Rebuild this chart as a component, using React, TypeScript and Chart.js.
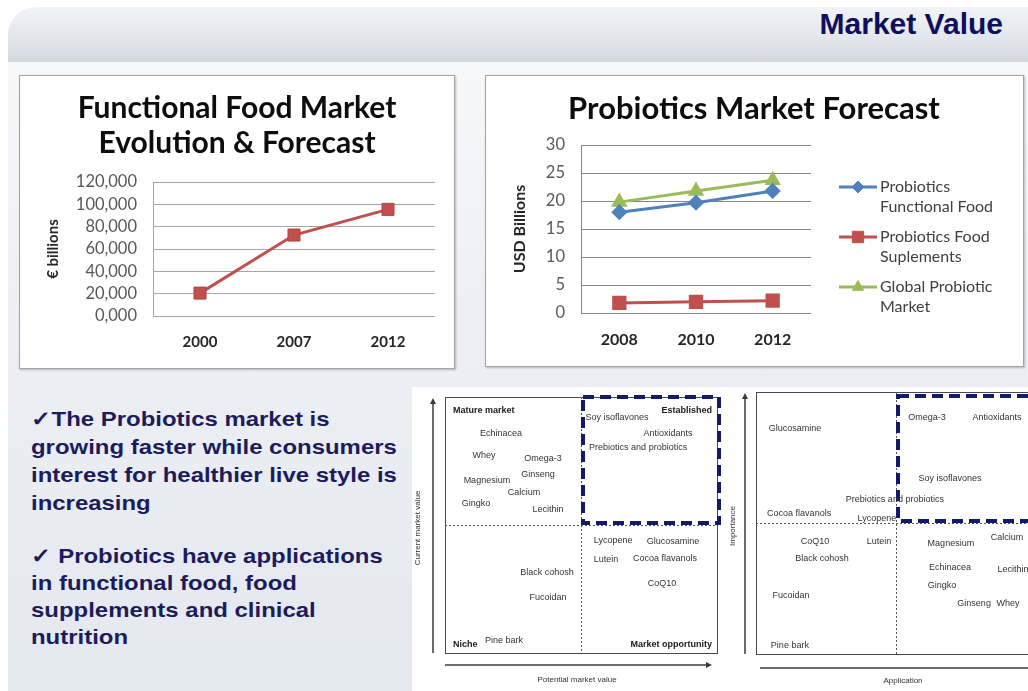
import React, { useEffect, useRef } from 'react';
import { Chart, registerables } from 'chart.js';
import { drawPoint } from 'chart.js/helpers';
Chart.register(...registerables);

// ---------- Data ----------
const ffYears = ['2000', '2007', '2012'];
const ffValues = [20500, 72500, 95500];
const ffTickLabels = ['0,000', '20,000', '40,000', '60,000', '80,000', '100,000', '120,000'];

const pbYears = ['2008', '2010', '2012'];
const pbFunctionalFood = [18.0, 19.7, 21.8];
const pbSupplements = [1.8, 2.0, 2.2];
const pbGlobal = [19.8, 21.8, 23.7];
const pbSeriesNames = [
  ['Probiotics', 'Functional Food'],
  ['Probiotics Food', 'Suplements'],
  ['Global Probiotic', 'Market'],
];

const q1Names = ['Echinacea', 'Whey', 'Omega-3', 'Ginseng', 'Magnesium', 'Calcium', 'Gingko', 'Lecithin', 'Soy isoflavones', 'Antioxidants', 'Prebiotics and probiotics', 'Lycopene', 'Glucosamine', 'Lutein', 'Cocoa flavanols', 'CoQ10', 'Black cohosh', 'Fucoidan', 'Pine bark'];
const q1X = [20.6, 14.3, 36.0, 34.2, 15.4, 29.0, 11.4, 37.9, 63.2, 82.0, 71.0, 61.8, 83.8, 59.2, 80.9, 79.8, 37.5, 37.9, 21.7];
const q1Y = [85.9, 77.3, 75.8, 69.9, 67.2, 62.5, 58.2, 55.9, 91.8, 85.9, 80.1, 43.8, 43.4, 36.7, 37.1, 27.0, 31.6, 21.5, 4.7];
const q1Corners = ['Mature market', 'Established', 'Niche', 'Market opportunity'];

const q2Names = ['Glucosamine', 'Omega-3', 'Antioxidants', 'Soy isoflavones', 'Prebiotics and probiotics', 'Cocoa flavanols', 'Lycopene', 'CoQ10', 'Lutein', 'Magnesium', 'Calcium', 'Black cohosh', 'Echinacea', 'Lecithin', 'Gingko', 'Ginseng', 'Whey', 'Fucoidan', 'Pine bark'];
const q2X = [13.9, 61.1, 86.1, 69.3, 49.6, 15.4, 43.2, 21.1, 43.9, 69.6, 89.6, 23.6, 69.3, 91.8, 66.4, 77.9, 90.0, 12.5, 12.1];
const q2Y = [85.9, 90.1, 90.1, 66.8, 58.8, 53.8, 51.9, 43.1, 43.1, 42.0, 44.3, 36.3, 33.2, 32.1, 26.0, 19.1, 19.1, 22.5, 3.1];

const bullet1 = ['\u2713The Probiotics market is', 'growing faster while consumers', 'interest for healthier live style is', 'increasing'];
const bullet2 = ['\u2713 Probiotics have applications', 'in functional food, food', 'supplements and clinical', 'nutrition'];

// ---------- Helpers ----------
const RED = '#c0504d';
const BLUE = '#4f81bd';
const GREEN = '#9bbb59';

const sideLegendPlugin = {
  id: 'sideLegend',
  afterDraw(chart: any) {
    const { ctx, chartArea } = chart;
    const x0 = chartArea.right + 28;
    ctx.save();
    chart.data.datasets.forEach((ds: any, i: number) => {
      const y = chartArea.top + 42 + i * 50;
      ctx.strokeStyle = ds.borderColor;
      ctx.lineWidth = 3;
      ctx.beginPath();
      ctx.moveTo(x0, y);
      ctx.lineTo(x0 + 38, y);
      ctx.stroke();
      ctx.fillStyle = ds.backgroundColor;
      ctx.strokeStyle = ds.borderColor;
      ctx.lineWidth = 1;
      drawPoint(ctx, { pointStyle: ds.pointStyle, radius: ds.pointRadius, rotation: 0, borderWidth: 1 }, x0 + 19, y);
      ctx.fillStyle = '#404040';
      ctx.font = '16px Lato';
      ctx.textAlign = 'left';
      ctx.textBaseline = 'middle';
      const lines = pbSeriesNames[i];
      lines.forEach((t, j) => ctx.fillText(t, x0 + 41, y + j * 20));
    });
    ctx.restore();
  },
};

function arrow(ctx: CanvasRenderingContext2D, x1: number, y1: number, x2: number, y2: number) {
  const ang = Math.atan2(y2 - y1, x2 - x1);
  const h = 6;
  ctx.beginPath();
  ctx.moveTo(x1, y1);
  ctx.lineTo(x2 - Math.cos(ang) * h, y2 - Math.sin(ang) * h);
  ctx.stroke();
  ctx.beginPath();
  ctx.moveTo(x2, y2);
  ctx.lineTo(x2 - Math.cos(ang) * h - Math.sin(ang) * 3, y2 - Math.sin(ang) * h + Math.cos(ang) * 3);
  ctx.lineTo(x2 - Math.cos(ang) * h + Math.sin(ang) * 3, y2 - Math.sin(ang) * h - Math.cos(ang) * 3);
  ctx.closePath();
  ctx.fill();
}

const quadPlugin = {
  id: 'quad',
  afterDatasetsDraw(chart: any, _args: any, opts: any) {
    const { ctx, chartArea, scales } = chart;
    const { left, right, top, bottom } = chartArea;
    const sx = scales.x;
    const sy = scales.y;
    const midX = Math.round(sx.getPixelForValue(50));
    const midY = Math.round(sy.getPixelForValue(50));
    ctx.save();
    // outer box
    ctx.strokeStyle = '#4a4a4a';
    ctx.lineWidth = 1;
    ctx.strokeRect(left + 0.5, top + 0.5, right - left, bottom - top);
    // dotted mid lines
    ctx.setLineDash([2, 2]);
    ctx.strokeStyle = '#555';
    ctx.beginPath();
    ctx.moveTo(midX + 0.5, top);
    ctx.lineTo(midX + 0.5, bottom);
    ctx.moveTo(left, midY + 0.5);
    ctx.lineTo(right, midY + 0.5);
    ctx.stroke();
    // navy dashed rectangle
    ctx.setLineDash([11, 6]);
    ctx.lineWidth = 4;
    ctx.strokeStyle = '#141a6b';
    ctx.strokeRect(midX + 2, top + opts.navyTop, right - midX, midY - top - opts.navyTop - 2);
    ctx.setLineDash([]);
    // labels
    ctx.fillStyle = '#333';
    ctx.font = '9px "Liberation Sans", Arial, sans-serif';
    ctx.textAlign = 'center';
    ctx.textBaseline = 'middle';
    chart.data.datasets[0].data.forEach((p: any) => {
      ctx.fillText(p.name, sx.getPixelForValue(p.x), sy.getPixelForValue(p.y));
    });
    // corner labels
    if (opts.corners) {
      ctx.font = 'bold 9px "Liberation Sans", Arial, sans-serif';
      ctx.fillStyle = '#1a1a1a';
      const [tl, tr, bl, br] = opts.corners;
      ctx.textAlign = 'left';
      ctx.fillText(tl, left + 8, top + 14);
      ctx.fillText(bl, left + 8, bottom - 8);
      ctx.textAlign = 'right';
      ctx.fillText(tr, right - 5, top + 14);
      ctx.fillText(br, right - 5, bottom - 8);
    }
    // arrows
    ctx.strokeStyle = '#3a3a3a';
    ctx.fillStyle = '#3a3a3a';
    ctx.lineWidth = 1.5;
    arrow(ctx, left - opts.vArrow, bottom, left - opts.vArrow, top + 1);
    arrow(ctx, left + opts.hStart, bottom + opts.hArrow, right + opts.hEnd, bottom + opts.hArrow);
    // axis titles
    ctx.fillStyle = '#333';
    ctx.font = '8px "Liberation Sans", Arial, sans-serif';
    ctx.textAlign = 'center';
    ctx.textBaseline = 'middle';
    ctx.fillText(opts.xTitle, (left + right) / 2 + opts.xTitleShift, bottom + 27);
    ctx.save();
    ctx.translate(left - opts.yTitleOff, (top + bottom) / 2 + 3);
    ctx.rotate(-Math.PI / 2);
    ctx.fillText(opts.yTitle, 0, 0);
    ctx.restore();
    ctx.restore();
  },
};

function quadConfig(names: string[], xs: number[], ys: number[], padding: any, opts: any): any {
  return {
    type: 'scatter',
    data: {
      datasets: [
        {
          data: names.map((n, i) => ({ x: xs[i], y: ys[i], name: n })),
          pointRadius: 0,
          pointHoverRadius: 0,
        },
      ],
    },
    options: {
      animation: false,
      responsive: false,
      events: [],
      layout: { padding },
      plugins: { legend: { display: false }, tooltip: { enabled: false }, quad: opts },
      scales: {
        x: { display: false, min: 0, max: 100 },
        y: { display: false, min: 0, max: 100 },
      },
    },
    plugins: [quadPlugin],
  };
}

const dummyRight = (w: number) => ({
  position: 'right',
  display: true,
  grid: { display: false, drawTicks: false },
  border: { display: false },
  ticks: { display: false },
  afterFit: (s: any) => {
    s.width = w;
  },
});

export default function App() {
  const c1 = useRef<HTMLCanvasElement>(null);
  const c2 = useRef<HTMLCanvasElement>(null);
  const c3 = useRef<HTMLCanvasElement>(null);
  const c4 = useRef<HTMLCanvasElement>(null);

  useEffect(() => {
    const charts: Chart[] = [];

    charts.push(
      new Chart(c1.current!, {
        type: 'line',
        data: {
          labels: ffYears,
          datasets: [
            {
              label: 'Functional Food Market',
              data: ffValues,
              borderColor: RED,
              backgroundColor: RED,
              borderWidth: 3,
              pointStyle: 'rect',
              pointRadius: 8.5,
              pointBorderWidth: 1,
              pointBorderColor: '#b9413e',
              yAxisID: 'y',
            },
          ],
        },
        options: {
          animation: false,
          responsive: false,
          events: [],
          layout: { padding: 0 },
          plugins: {
            legend: { display: false },
            tooltip: { enabled: false },
            title: {
              display: true,
              text: ['Functional Food Market', 'Evolution & Forecast'],
              color: '#0d0d0d',
              font: { family: 'Lato', size: 30, weight: 'bold', lineHeight: 1.167 },
              padding: { top: 15, bottom: 21 },
            },
          },
          scales: {
            x: {
              offset: true,
              grid: { display: false, drawTicks: false },
              border: { display: false },
              ticks: { padding: 17, color: '#262626', font: { family: 'Lato', size: 15, weight: 'bold' } },
              afterFit: (s: any) => {
                s.height = 52;
              },
            },
            y: {
              min: 0,
              max: 120000,
              ticks: {
                stepSize: 20000,
                autoSkip: false,
                padding: 16,
                color: '#595959',
                font: { family: 'Lato', size: 16.5, lineHeight: 1 },
                callback: (_v: any, i: number) => ffTickLabels[i],
              },
              grid: { color: '#a6a6a6', drawTicks: false },
              border: { display: true, color: '#a6a6a6' },
              title: {
                display: true,
                text: '€ billions',
                color: '#262626',
                font: { family: 'Lato', size: 15, weight: 'bold' },
                padding: { top: 24, bottom: 0 },
              },
              afterFit: (s: any) => {
                s.width = 133;
              },
            },
            yR: dummyRight(19) as any,
          },
        },
      } as any)
    );

    charts.push(
      new Chart(c2.current!, {
        type: 'line',
        data: {
          labels: pbYears,
          datasets: [
            {
              label: pbSeriesNames[0].join(' '),
              data: pbFunctionalFood,
              borderColor: BLUE,
              backgroundColor: BLUE,
              borderWidth: 3,
              pointStyle: 'rectRot',
              pointRadius: 6,
              yAxisID: 'y',
            },
            {
              label: pbSeriesNames[1].join(' '),
              data: pbSupplements,
              borderColor: RED,
              backgroundColor: RED,
              borderWidth: 3,
              pointStyle: 'rect',
              pointRadius: 8,
              yAxisID: 'y',
            },
            {
              label: pbSeriesNames[2].join(' '),
              data: pbGlobal,
              borderColor: GREEN,
              backgroundColor: GREEN,
              borderWidth: 3,
              pointStyle: 'triangle',
              pointRadius: 6.5,
              yAxisID: 'y',
            },
          ],
        },
        options: {
          animation: false,
          responsive: false,
          events: [],
          layout: { padding: 0 },
          plugins: {
            legend: { display: false },
            tooltip: { enabled: false },
            title: {
              display: true,
              text: 'Probiotics Market Forecast',
              color: '#0d0d0d',
              font: { family: 'Lato', size: 31, weight: 'bold', lineHeight: 1.2 },
              padding: { top: 14.5, bottom: 17.3 },
            },
          },
          scales: {
            x: {
              offset: true,
              grid: { display: false, drawTicks: false },
              border: { display: false },
              ticks: { padding: 17, color: '#262626', font: { family: 'Lato', size: 16, weight: 'bold' } },
              afterFit: (s: any) => {
                s.height = 53;
              },
            },
            y: {
              min: 0,
              max: 30,
              ticks: { stepSize: 5, autoSkip: false, padding: 16, color: '#595959', font: { family: 'Lato', size: 16.5, lineHeight: 1 } },
              grid: { color: '#868686', drawTicks: false },
              border: { display: true, color: '#868686' },
              title: {
                display: true,
                text: 'USD Billions',
                color: '#262626',
                font: { family: 'Lato', size: 16, weight: 'bold' },
                padding: { top: 24, bottom: 0 },
              },
              afterFit: (s: any) => {
                s.width = 95;
              },
            },
            yR: dummyRight(211) as any,
          },
        },
        plugins: [sideLegendPlugin],
      } as any)
    );

    charts.push(
      new Chart(
        c3.current!,
        quadConfig(q1Names, q1X, q1Y, { left: 33, right: 23, top: 10, bottom: 38 }, {
          corners: q1Corners,
          navyTop: 0,
          vArrow: 12,
          hArrow: 12,
          hStart: 0,
          hEnd: -5,
          xTitle: 'Potential market value',
          xTitleShift: -4,
          yTitle: 'Current market value',
          yTitleOff: 27,
        })
      )
    );

    charts.push(
      new Chart(
        c4.current!,
        quadConfig(q2Names, q2X, q2Y, { left: 36, right: 24, top: 5, bottom: 37 }, {
          corners: null,
          navyTop: 4,
          vArrow: 11,
          hArrow: 14,
          hStart: 4,
          hEnd: 0,
          xTitle: 'Application',
          xTitleShift: 7,
          yTitle: 'Importance',
          yTitleOff: 23,
        })
      )
    );

    return () => charts.forEach((c) => c.destroy());
  }, []);

  const abs = (l: number, t: number, w: number, h: number): React.CSSProperties => ({
    position: 'absolute',
    left: l,
    top: t,
    width: w,
    height: h,
  });

  const bulletStyle = (top: number, lh: number): React.CSSProperties => ({
    position: 'absolute',
    left: 31,
    top,
    fontWeight: 'bold',
    fontSize: 21,
    lineHeight: lh + 'px',
    color: '#1c1c5c',
    whiteSpace: 'nowrap',
    transform: 'scaleX(1.14)',
    transformOrigin: 'left top',
  });

  return (
    <div
      style={{
        position: 'absolute',
        left: 0,
        top: 0,
        width: 1028,
        height: 691,
        overflow: 'hidden',
        background: '#ffffff',
        fontFamily: '"Liberation Sans", Arial, sans-serif',
      }}
    >
      {/* body background */}
      <div style={{ ...abs(8, 62, 1020, 629), background: 'linear-gradient(180deg,#f7f8fa 0%,#eef0f4 35%,#e4e8ef 100%)' }} />
      {/* header */}
      <div
        style={{
          ...abs(8, 7, 1020, 55),
          borderTopLeftRadius: 28,
          background: 'linear-gradient(180deg,#f2f3f6 0%,#e3e6ec 55%,#d2d6de 100%)',
        }}
      />
      <div
        style={{
          position: 'absolute',
          right: 25,
          top: 7,
          fontFamily: '"Liberation Sans Narrow", "Liberation Sans", Arial, sans-serif',
          fontWeight: 'bold',
          fontSize: 30,
          lineHeight: '34px',
          color: '#0f0f5e',
        }}
      >
        Market Value
      </div>

      {/* chart panels */}
      <div
        style={{
          ...abs(19, 75, 436, 294),
          boxSizing: 'border-box',
          background: '#fff',
          border: '1px solid #a3a3a3',
          boxShadow: '1px 1px 2px rgba(0,0,0,0.25)',
        }}
      />
      <div
        style={{
          ...abs(485, 75, 539, 292),
          boxSizing: 'border-box',
          background: '#fff',
          border: '1px solid #a3a3a3',
          boxShadow: '1px 1px 2px rgba(0,0,0,0.25)',
        }}
      />
      <canvas ref={c1} width={434} height={292} style={abs(20, 76, 434, 292)} />
      <canvas ref={c2} width={536} height={290} style={abs(486, 76, 536, 290)} />

      {/* bullets */}
      <div style={bulletStyle(405, 28)}>
        {bullet1.map((t, i) => (
          <div key={i}>{t}</div>
        ))}
      </div>
      <div style={bulletStyle(542, 27)}>
        {bullet2.map((t, i) => (
          <div key={i}>{t}</div>
        ))}
      </div>

      {/* quadrant diagrams */}
      <div style={{ ...abs(412, 387, 616, 304), background: '#ffffff' }} />
      <canvas ref={c3} width={328} height={304} style={abs(412, 387, 328, 304)} />
      <canvas ref={c4} width={340} height={304} style={abs(720, 387, 340, 304)} />
    </div>
  );
}
